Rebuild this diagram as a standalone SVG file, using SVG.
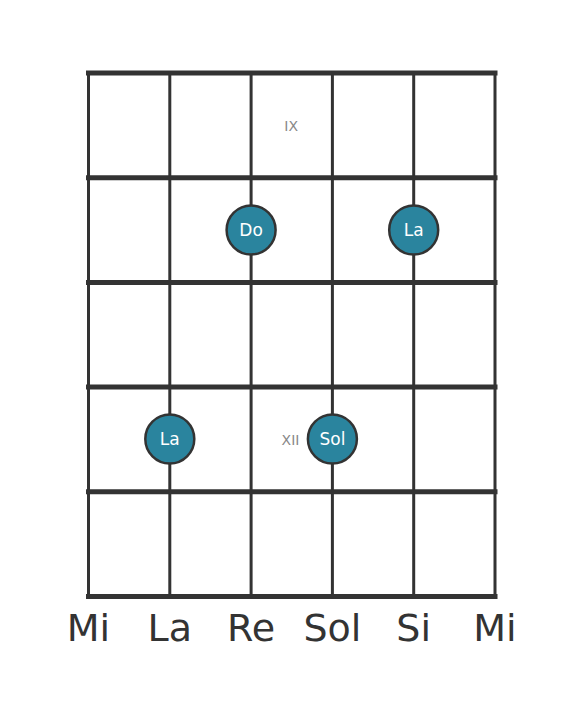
<svg xmlns="http://www.w3.org/2000/svg" width="584" height="711" viewBox="0 0 584 711">
<style>
.s{stroke:#333;stroke-width:3;fill:none}
.f{stroke:#333;stroke-width:5;fill:none;stroke-linecap:square}
.dot{fill:#2a849e;stroke:#333;stroke-width:2.5}
.dt{fill:#fff;font-family:"DejaVu Sans",sans-serif;font-size:17px;text-anchor:middle;dominant-baseline:central}
.pos{fill:#888;font-family:"DejaVu Sans",sans-serif;font-size:14px;text-anchor:middle;dominant-baseline:central}
.lab{fill:#333;font-family:"DejaVu Sans",sans-serif;font-size:38px;text-anchor:middle}
</style>
<rect width="584" height="711" fill="#fff"/>
<g id="connectors">
<line class="s" x1="88.5" y1="73" x2="88.5" y2="596.5"/>
<line class="s" x1="169.8" y1="73" x2="169.8" y2="596.5"/>
<line class="s" x1="251.1" y1="73" x2="251.1" y2="596.5"/>
<line class="s" x1="332.4" y1="73" x2="332.4" y2="596.5"/>
<line class="s" x1="413.7" y1="73" x2="413.7" y2="596.5"/>
<line class="s" x1="495" y1="73" x2="495" y2="596.5"/>
<line class="f" x1="88.5" y1="73" x2="495" y2="73"/>
<line class="f" x1="88.5" y1="177.7" x2="495" y2="177.7"/>
<line class="f" x1="88.5" y1="282.4" x2="495" y2="282.4"/>
<line class="f" x1="88.5" y1="387.1" x2="495" y2="387.1"/>
<line class="f" x1="88.5" y1="491.8" x2="495" y2="491.8"/>
<line class="f" x1="88.5" y1="596.5" x2="495" y2="596.5"/>
</g>
<g id="pos-ix"><text class="pos" x="291.2" y="126">IX</text></g>
<g id="pos-xii"><text class="pos" x="290.5" y="439.5">XII</text></g>
<g id="note-do"><circle class="dot" cx="251.1" cy="230" r="24.5"/><text class="dt" x="251.1" y="230">Do</text></g>
<g id="note-la1"><circle class="dot" cx="413.7" cy="230" r="24.5"/><text class="dt" x="413.7" y="230">La</text></g>
<g id="note-la2"><circle class="dot" cx="169.8" cy="439" r="24.5"/><text class="dt" x="169.8" y="439">La</text></g>
<g id="note-sol"><circle class="dot" cx="332.4" cy="439" r="24.5"/><text class="dt" x="332.4" y="439">Sol</text></g>
<g id="labels">
<text class="lab" x="88.5" y="641">Mi</text>
<text class="lab" x="169.8" y="641">La</text>
<text class="lab" x="251.1" y="641">Re</text>
<text class="lab" x="332.4" y="641">Sol</text>
<text class="lab" x="413.7" y="641">Si</text>
<text class="lab" x="495" y="641">Mi</text>
</g>
</svg>
